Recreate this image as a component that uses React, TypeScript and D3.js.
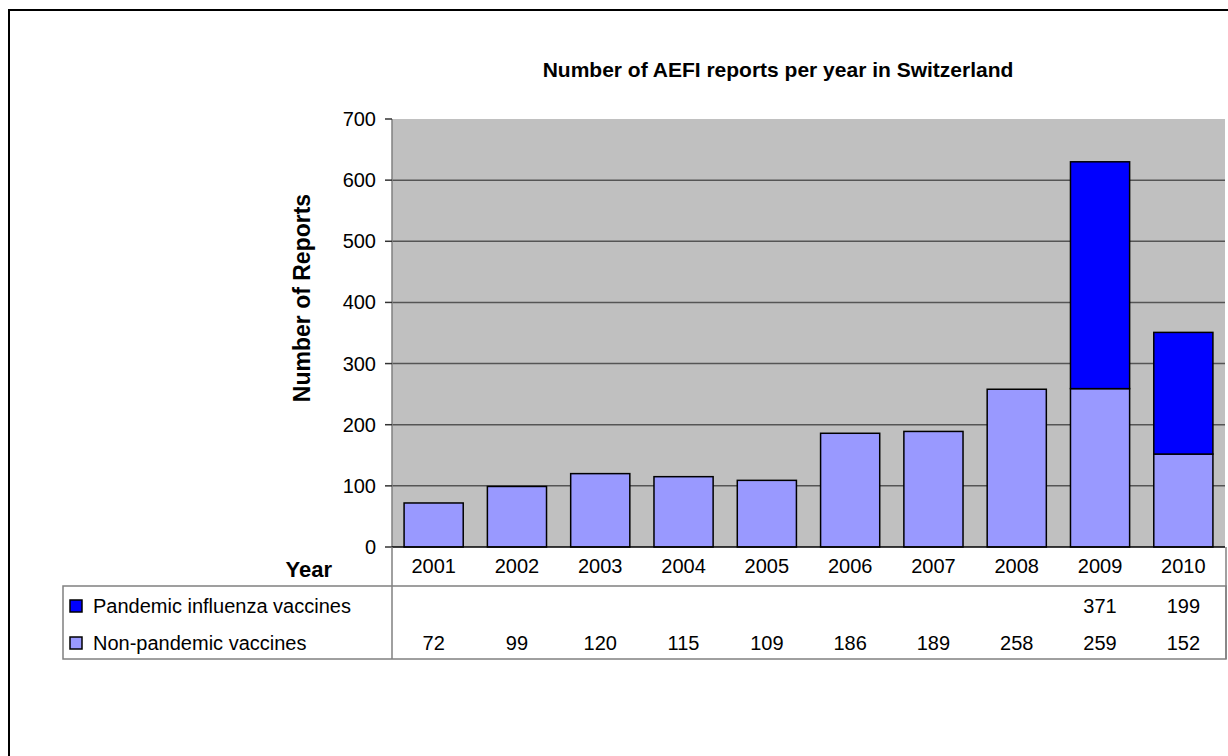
import * as d3 from "d3";

const years = ["2001", "2002", "2003", "2004", "2005", "2006", "2007", "2008", "2009", "2010"];
const nonPandemic = [72, 99, 120, 115, 109, 186, 189, 258, 259, 152];
const pandemic = [null, null, null, null, null, null, null, null, 371, 199];
const yTicks = [0, 100, 200, 300, 400, 500, 600, 700];

const seriesNames = ["Pandemic influenza vaccines", "Non-pandemic vaccines"];
const seriesColors = ["#0000FF", "#9999FF"];

const FONT = "'Liberation Sans', Arial, sans-serif";

const W = 1228;
const H = 756;
const plot = { left: 392, right: 1225, top: 119, bottom: 547 };
const table = { left: 63, right: 1226, yearBottom: 586, bottom: 659 };

export default function App() {
  const x = d3.scaleBand().domain(years).range([plot.left, plot.right]).paddingInner(0.29).paddingOuter(0.145);
  const y = d3.scaleLinear().domain([0, 700]).range([plot.bottom, plot.top]);

  const rows = years.map((yr, i) => ({ year: yr, non: nonPandemic[i], pan: pandemic[i] ?? 0 }));
  const stack = d3.stack<any>().keys(["non", "pan"])(rows);

  const center = (yr: string) => (x(yr) ?? 0) + x.bandwidth() / 2;

  return (
    <svg width={W} height={H} style={{ position: "absolute", left: 0, top: 0, background: "#fff" }} fontFamily={FONT}>
      <rect x={9} y={10} width={W + 20} height={H + 20} fill="#fff" stroke="#000" strokeWidth={2} />

      <text x={778} y={77} textAnchor="middle" fontSize={21} fontWeight="bold">
        Number of AEFI reports per year in Switzerland
      </text>

      <rect x={plot.left} y={plot.top} width={plot.right - plot.left} height={plot.bottom - plot.top} fill="#C0C0C0" />

      {/* grid */}
      {yTicks.filter((t) => t > 0 && t < 700).map((t) => (
        <line key={t} x1={plot.left} x2={plot.right} y1={y(t)} y2={y(t)} stroke="#555" strokeWidth={1.5} />
      ))}

      {/* stacked bars: non-pandemic below, pandemic on top */}
      {stack.map((s, si) =>
        s.map((d, i) => {
          if (d[1] - d[0] <= 0) return null;
          return (
            <rect
              key={`${si}-${i}`}
              x={x(years[i])}
              y={y(d[1])}
              width={x.bandwidth()}
              height={y(d[0]) - y(d[1])}
              fill={si === 0 ? seriesColors[1] : seriesColors[0]}
              stroke="#000"
              strokeWidth={1.5}
            />
          );
        })
      )}

      <line x1={plot.left} x2={plot.left} y1={plot.top} y2={plot.bottom} stroke="#808080" strokeWidth={1.5} />
      {yTicks.map((t) => (
        <g key={t}>
          <line x1={plot.left - 7} x2={plot.left} y1={y(t)} y2={y(t)} stroke="#333" strokeWidth={1.5} />
          <text x={376} y={y(t) + 7} textAnchor="end" fontSize={20}>
            {t}
          </text>
        </g>
      ))}
      <line x1={plot.left} x2={plot.right} y1={plot.bottom} y2={plot.bottom} stroke="#000" strokeWidth={1.5} />

      <text
        transform={`translate(310, ${(plot.top + plot.bottom) / 2 - 35}) rotate(-90)`}
        textAnchor="middle"
        fontSize={23}
        fontWeight="bold"
      >
        Number of Reports
      </text>

      {/* data table */}
      <text x={332} y={577} textAnchor="end" fontSize={22} fontWeight="bold">
        Year
      </text>
      <g stroke="#808080" strokeWidth={1.5} fill="none">
        <line x1={plot.left} x2={plot.left} y1={plot.bottom} y2={table.bottom} />
        <line x1={table.right} x2={table.right} y1={plot.bottom} y2={table.bottom} />
        <rect x={table.left} y={table.yearBottom} width={table.right - table.left} height={table.bottom - table.yearBottom} />
      </g>
      {years.map((yr) => (
        <text key={yr} x={center(yr)} y={573} textAnchor="middle" fontSize={20}>
          {yr}
        </text>
      ))}
      {seriesNames.map((name, si) => (
        <g key={name}>
          <rect x={70} y={600 + si * 37} width={12} height={12} fill={seriesColors[si]} stroke="#000" strokeWidth={1.5} />
          <text x={93} y={613 + si * 37} fontSize={20}>
            {name}
          </text>
        </g>
      ))}
      {years.map((yr, i) => (
        <g key={yr}>
          {pandemic[i] != null && (
            <text x={center(yr)} y={613} textAnchor="middle" fontSize={20}>
              {pandemic[i]}
            </text>
          )}
          <text x={center(yr)} y={650} textAnchor="middle" fontSize={20}>
            {nonPandemic[i]}
          </text>
        </g>
      ))}
    </svg>
  );
}
